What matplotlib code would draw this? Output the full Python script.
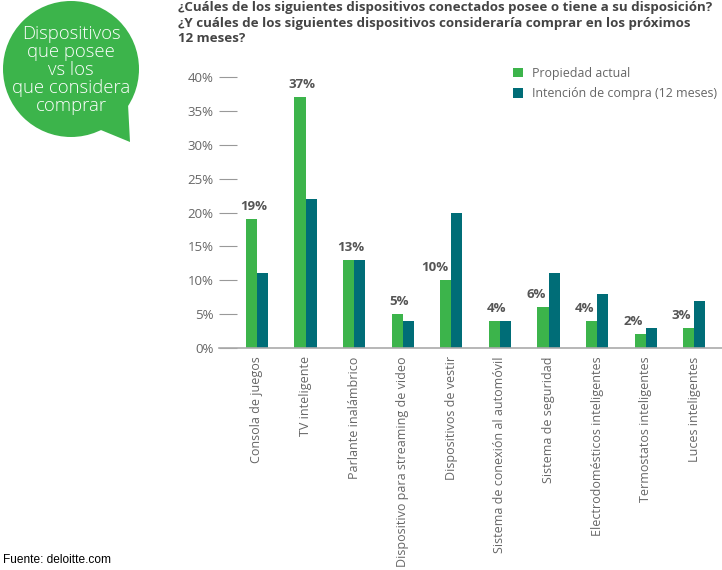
import matplotlib.pyplot as plt
from matplotlib.patches import Circle, Polygon

# ===== Data =====
categories = [
    "Consola de juegos",
    "TV inteligente",
    "Parlante inalámbrico",
    "Dispositivo para streaming de video",
    "Dispositivos de vestir",
    "Sistema de conexión al automóvil",
    "Sistema de seguridad",
    "Electrodomésticos inteligentes",
    "Termostatos inteligentes",
    "Luces inteligentes",
]
propiedad = [19, 37, 13, 5, 10, 4, 6, 4, 2, 3]
intencion = [11, 22, 13, 4, 20, 4, 11, 8, 3, 7]
yticks = [0, 5, 10, 15, 20, 25, 30, 35, 40]

GREEN = "#3cb44b"
TEAL = "#006d77"
GRAY = "#666666"

plt.rcParams["font.family"] = ["Open Sans", "DejaVu Sans"]

# ===== Figure =====
W, H = 722, 570
fig = plt.figure(figsize=(W / 100, H / 100), dpi=100)
ax = fig.add_axes([219 / W, 1 - 348 / H, (722 - 219) / W, (348 - 77) / H])

bw = 0.227
x = list(range(len(categories)))
ax.bar([i - bw / 2 for i in x], propiedad, width=bw, color=GREEN, label="Propiedad actual")
ax.bar([i + bw / 2 for i in x], intencion, width=bw, color=TEAL, label="Intención de compra (12 meses)")

# labels over the green bar; pushed left when the teal bar is taller
for i, v, t in zip(x, propiedad, intencion):
    if t > v:
        lx, ha = i - 0.06, "right"
    else:
        lx, ha = i - bw / 2 + 0.04, "center"
    ax.text(lx, v + 0.9, f"{v}%", ha=ha, va="bottom",
            fontsize=9.5, fontweight="bold", color="#555555", clip_on=False)

ax.set_xlim(-0.78, 9.57)
ax.set_ylim(0, 40)
ax.set_yticks(yticks)
ax.set_yticklabels([f"{t}%" for t in yticks], fontsize=9.5, color=GRAY)
ax.tick_params(axis="y", direction="in", length=13, width=0.8, color="#999999", pad=4)
ax.set_xticks(x)
ax.set_xticklabels(categories, rotation=90, fontsize=9, color=GRAY, va="top")
ax.tick_params(axis="x", length=0, pad=6)

for s in ["top", "right", "left"]:
    ax.spines[s].set_visible(False)
ax.spines["bottom"].set_color("#aaaaaa")
ax.spines["bottom"].set_linewidth(1.2)

ax.legend(loc="upper left", bbox_to_anchor=(0.575, 1.055), frameon=False,
          fontsize=8.9, labelcolor=GRAY, handlelength=0.8, handleheight=0.8,
          handletextpad=0.7, labelspacing=0.6, borderaxespad=0)

# ===== Title =====
fig.text(178 / W, 1 - 1 / H,
         "¿Cuáles de los siguientes dispositivos conectados posee o tiene a su disposición?\n"
         "¿Y cuáles de los siguientes dispositivos consideraría comprar en los próximos\n"
         "12 meses?",
         ha="left", va="top", fontsize=9.6, fontweight="bold", color="#444444",
         linespacing=1.25)

# ===== Speech bubble =====
bub = fig.add_axes([0, 0, 1, 1], zorder=-1)
bub.set_xlim(0, W)
bub.set_ylim(H, 0)
bub.axis("off")
bub.add_patch(Circle((71, 69), 68, color=GREEN, lw=0))
bub.add_patch(Polygon([(96, 128), (128, 104), (130, 142)], closed=True, color=GREEN, lw=0))
bub.text(71, 70, "Dispositivos\nque posee\nvs los\nque considera\ncomprar",
         ha="center", va="center", fontsize=13.3, fontweight="light", color="white",
         linespacing=1.0)

# ===== Footer =====
fig.text(3 / W, 1 - 560 / H, "Fuente: deloitte.com", ha="left", va="center",
         fontsize=8.6, family="Liberation Sans", color="black")

plt.savefig("out.png", dpi=100)
